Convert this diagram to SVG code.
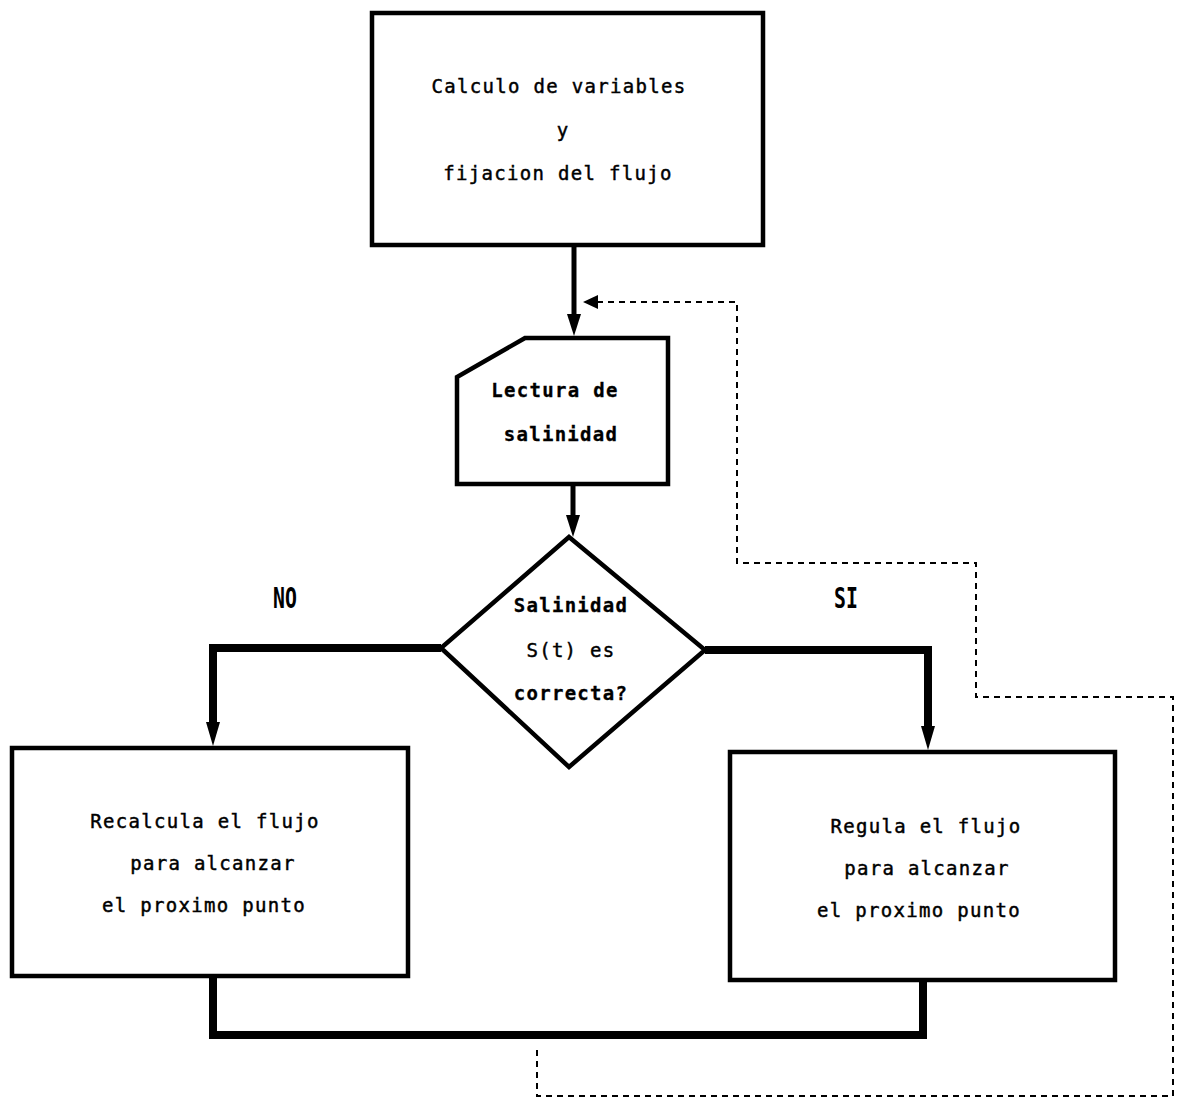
<svg xmlns="http://www.w3.org/2000/svg" width="1177" height="1101" viewBox="0 0 1177 1101">
<style>
.box{fill:#fff;stroke:#000;stroke-width:4.5}
.t{font-family:"DejaVu Sans Mono","Liberation Mono",monospace;font-size:19px;letter-spacing:1.3px;fill:#000;stroke:#000;stroke-width:0.45;text-anchor:middle}
.b{font-weight:bold;stroke-width:0.3}
.lbl{font-family:"DejaVu Sans Mono","Liberation Mono",monospace;font-size:22px;font-weight:bold;fill:#000;text-anchor:middle}
.flow{fill:none;stroke:#000;stroke-linejoin:miter}
.dash{fill:none;stroke:#000;stroke-width:2;stroke-dasharray:6 5}
</style>
<rect width="1177" height="1101" fill="#fff"/>
<g id="connectors">
<line class="flow" x1="574" y1="245" x2="574" y2="316" stroke-width="5"/>
<path d="M567,314 L581,314 L574,336 Z" fill="#000"/>
<line class="flow" x1="573" y1="485" x2="573" y2="518" stroke-width="5"/>
<path d="M566,515 L580,515 L573,537 Z" fill="#000"/>
<path class="flow" d="M441,648 L213,648 L213,726" stroke-width="8"/>
<path d="M206,722 L220,722 L213,746 Z" fill="#000"/>
<path class="flow" d="M705,650 L928,650 L928,730" stroke-width="8"/>
<path d="M921,726 L935,726 L928,750 Z" fill="#000"/>
<path class="flow" d="M213,976 L213,1035 L923,1035 L923,980" stroke-width="8"/>
<path class="dash" d="M537,1050 L537,1096 L1173,1096 L1173,697 L976,697 L976,563 L737,563 L737,302 L596,302"/>
<path d="M583,302 L598,295 L598,309 Z" fill="#000"/>
</g>
<g id="node-calculo">
<rect class="box" x="372" y="13" width="391" height="232"/>
<text class="t" x="559" y="93">Calculo de variables</text>
<text class="t" x="563" y="137">y</text>
<text class="t" x="558" y="180">fijacion del flujo</text>
</g>
<g id="node-lectura">
<path class="box" d="M525,338 L668,338 L668,484 L457,484 L457,377 Z"/>
<text class="t b" x="555" y="397">Lectura de</text>
<text class="t b" x="561" y="441">salinidad</text>
</g>
<g id="node-decision">
<path class="box" d="M569,537 L705,650 L569,767 L441,648 Z" stroke-width="3.5"/>
<text class="t b" x="571" y="612">Salinidad</text>
<text class="t" x="571" y="657">S(t) es</text>
<text class="t b" x="571" y="700">correcta?</text>
</g>
<g id="label-no"><text class="lbl" transform="translate(285,608) scale(0.9,1.3)">NO</text></g>
<g id="label-si"><text class="lbl" transform="translate(846,608) scale(0.9,1.3)">SI</text></g>
<g id="node-recalcula">
<rect class="box" x="12" y="748" width="396" height="228"/>
<text class="t" x="205" y="828">Recalcula el flujo</text>
<text class="t" x="213" y="870">para alcanzar</text>
<text class="t" x="204" y="912">el proximo punto</text>
</g>
<g id="node-regula">
<rect class="box" x="730" y="752" width="385" height="228"/>
<text class="t" x="926" y="833">Regula el flujo</text>
<text class="t" x="927" y="875">para alcanzar</text>
<text class="t" x="919" y="917">el proximo punto</text>
</g>
</svg>
